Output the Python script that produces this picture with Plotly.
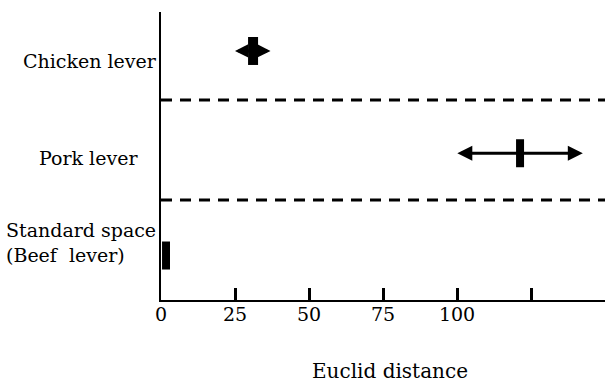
import plotly.graph_objects as go

# ---- data ----
categories = ["Chicken lever", "Pork lever", "Standard space<br>(Beef\u00a0 lever)"]
center_dist = [31.1, 121.3, 1.7]
lower_dist = [25.0, 100.1, 1.7]
upper_dist = [37.0, 142.5, 1.7]
x_tickvals = [0, 25, 50, 75, 100, 125, 150]
x_ticktext = ["0", "25", "50", "75", "100", "", ""]

row_pos = [2, 1, 0]
separators = [1.52, 0.543]

FONT = "DejaVu Serif"
FS = 19

fig = go.Figure()

fig.add_trace(go.Scatter(
    x=center_dist, y=row_pos, mode="markers",
    marker=dict(symbol="line-ns", size=20, color="black",
                line=dict(color="black", width=[10, 8, 8])),
    showlegend=False, hoverinfo="skip", cliponaxis=False,
))

annotations = []
arrow_sizes = [0.88, 1.0, 1.0]
for c, lo, hi, yp, asz in zip(center_dist, lower_dist, upper_dist, row_pos, arrow_sizes):
    for tip in (lo, hi):
        if tip == c:
            continue
        annotations.append(dict(
            x=tip, y=yp, ax=c, ay=yp, xref="x", yref="y", axref="x", ayref="y",
            text="", showarrow=True, arrowhead=2, arrowsize=asz, arrowwidth=3,
            arrowcolor="black", standoff=0, startstandoff=0,
        ))

label_x_px = [90, 88.5, 80.5]
label_shift = [-10, -5, 13]
for txt, yp, px, sh in zip(categories, row_pos, label_x_px, label_shift):
    annotations.append(dict(
        x=(px - 161) / 444, y=yp, xref="paper", yref="y", text=txt,
        showarrow=False, xanchor="center", yanchor="middle", yshift=sh,
        align="left", font=dict(family=FONT, size=FS, color="black"),
    ))

annotations.append(dict(
    x=(389.5 - 161) / 444, y=(300 - 371) / 288, xref="paper", yref="paper",
    text="Euclid distance", showarrow=False, xanchor="center", yanchor="middle",
    font=dict(family=FONT, size=20, color="black"),
))

shapes = [dict(type="line", xref="paper", x0=0, x1=1, yref="y", y0=s, y1=s,
               line=dict(color="black", width=3, dash="11px,8px"))
          for s in separators]

fig.update_layout(
    width=608, height=382,
    margin=dict(l=161, r=3, t=12, b=82),
    paper_bgcolor="white", plot_bgcolor="white",
    font=dict(family=FONT, size=FS, color="black"),
    annotations=annotations, shapes=shapes,
    xaxis=dict(range=[0, 150], showline=True, linecolor="black", linewidth=2,
               ticks="inside", ticklen=12, tickwidth=3, tickcolor="black",
               tickvals=x_tickvals, ticktext=x_ticktext, ticklabelstandoff=-4,
               tickfont=dict(family=FONT, size=FS, color="black"),
               showgrid=False, zeroline=False),
    yaxis=dict(range=[-0.435, 2.381], showline=True, linecolor="black", linewidth=2,
               showticklabels=False, ticks="", showgrid=False, zeroline=False),
)

fig.write_html("out.html")
